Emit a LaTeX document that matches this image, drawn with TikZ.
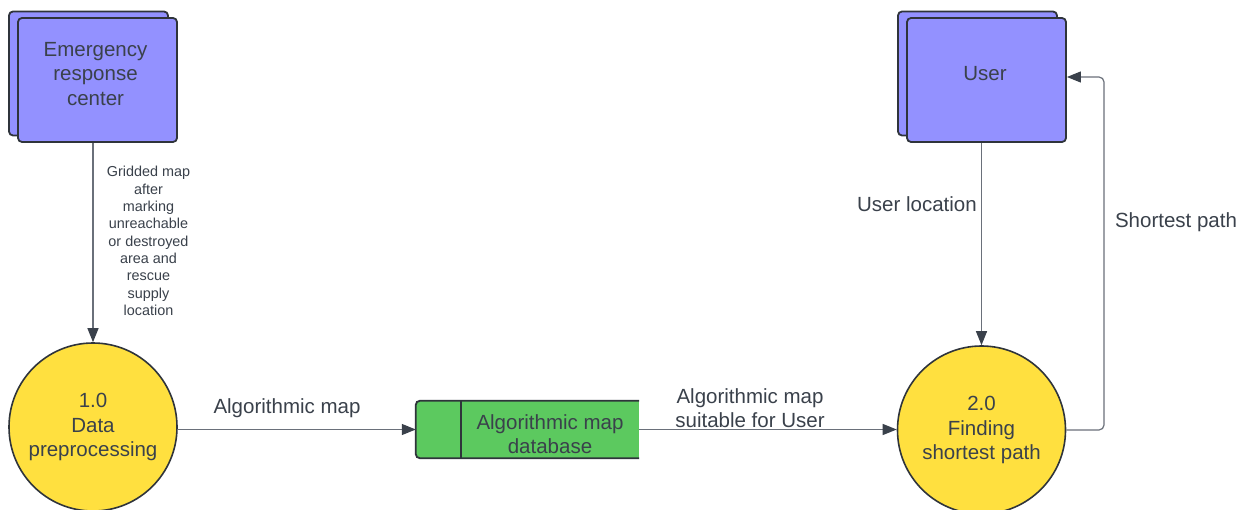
\documentclass[tikz,border=0pt]{standalone}
\usepackage{fontspec}
\setmainfont{Liberation Sans}
\usetikzlibrary{arrows.meta}
\definecolor{entfill}{HTML}{9391FF}
\definecolor{procfill}{HTML}{FFE03F}
\definecolor{storefill}{HTML}{5CC95F}
\definecolor{edge}{HTML}{2F343B}
\definecolor{ink}{HTML}{3A414B}
\definecolor{wire}{HTML}{6A707A}
\tikzset{
  entity/.style={draw=edge, line width=1.8pt, fill=entfill, rounded corners=4pt,
    minimum width=159pt, minimum height=124pt, inner sep=0pt},
  process/.style={circle, draw=edge, line width=1.6pt, fill=procfill,
    minimum size=168pt, inner sep=0pt, align=center, text=ink,
    font=\fontsize{20.5}{24.5}\selectfont},
  txt/.style={align=center, text=ink, inner sep=0pt, font=\fontsize{20.5}{24.5}\selectfont},
  small/.style={align=center, text=ink, inner sep=0pt, font=\fontsize{14.4}{17.3}\selectfont},
  flow/.style={draw=wire, line width=1.2pt,
    -{Triangle[length=14pt,width=11pt,fill=ink,color=ink]}},
}
\begin{document}
\begin{tikzpicture}[x=1pt,y=-1pt]
\useasboundingbox[fill=white] (0,0) rectangle (1247,510);

% external entities (stacked boxes)
\node[entity] (ercback) at (88.5,73.5) {};
\node[entity] (erc) at (97.5,80) {};
\node[txt] (erctext) at (95.5,74) {Emergency\\response\\center};

\node[entity] (userback) at (977.5,73.5) {};
\node[entity] (user) at (986.5,80) {};
\node[txt] (usertext) at (985,74) {User};

% processes
\node[process] (p1) at (93,427) {1.0\\Data\\preprocessing};
\node[process] (p2) at (981.5,430) {2.0\\Finding\\shortest path};

% data store: open on the right side
\node[minimum width=223pt, minimum height=57pt, inner sep=0pt, fill=storefill] (db) at (527.5,429.5) {};
\draw[edge, line width=1.8pt, rounded corners=4pt]
  (db.north east) -- (db.north west) -- (db.south west) -- (db.south east);
\draw[edge, line width=1.8pt] ([xshift=45pt]db.north west) -- ([xshift=45pt]db.south west);
\node[txt] (dbtext) at (550,434) {Algorithmic map\\database};

% data flows
\draw[flow] (p1.north |- erc.south) -- (p1.north);
\node[small] (l1) at (148.5,241) {Gridded map\\after\\marking\\unreachable\\or destroyed\\area and\\rescue\\supply\\location};

\draw[flow] (p1.east |- db.west) -- (db.west);
\node[txt] (l2) at (287,408) {Algorithmic map};

\draw[flow] (db.east) -- (p2.west |- db.east);
\node[txt] (l3) at (750,408) {Algorithmic map\\suitable for User};

\draw[flow] (p2.north |- user.south) -- (p2.north);
\node[txt] (l4) at (917,204) {User location};

\coordinate (sp) at (1104,77);
\draw[flow, rounded corners=5pt] (p2.east) -| (sp) -- (user.east |- sp);
\node[txt] (l5) at (1176,222) {Shortest path};
\end{tikzpicture}
\end{document}
